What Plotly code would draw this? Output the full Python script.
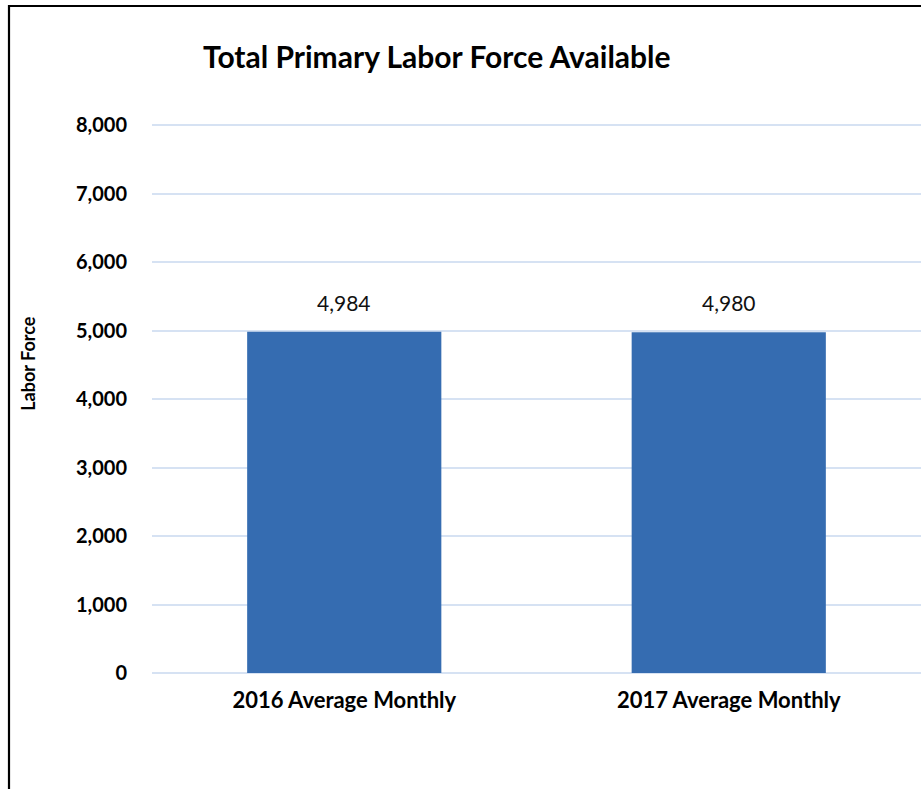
import plotly.graph_objects as go

categories = ["2016 Average Monthly", "2017 Average Monthly"]
labor_force = [4984, 4980]
y_tick_values = [0, 1000, 2000, 3000, 4000, 5000, 6000, 7000, 8000]
y_tick_labels = ["0", "1,000", "2,000", "3,000", "4,000", "5,000", "6,000", "7,000", "8,000"]

FONT = "Lato"
W, H = 921, 789
Y_MAX = 8050
PX_PER_UNIT = 68.5 / 1000
ML, MR, MB = 152, 0, 115.5
MT = 125.5 - (Y_MAX - 8000) * PX_PER_UNIT
plot_w = W - ML - MR
plot_h = H - MT - MB

def px_to_paper_x(px):
    return (px - ML) / plot_w

def px_to_paper_y(py):
    return (H - MB - py) / plot_h

fig = go.Figure()
fig.add_trace(go.Bar(
    x=categories,
    y=labor_force,
    width=0.505,
    marker=dict(color="#356CB1", line=dict(width=0)),
    hoverinfo="x+y",
    showlegend=False,
))

for c, v in zip(categories, labor_force):
    fig.add_annotation(
        x=c, y=v, xref="x", yref="y",
        text=f"{v:,}", showarrow=False,
        yanchor="bottom", yshift=15,
        font=dict(family=FONT, size=21, color="#111111"),
    )

# y-axis title
fig.add_annotation(
    x=px_to_paper_x(28), y=px_to_paper_y(364), xref="paper", yref="paper",
    text="<b>Labor Force</b>", textangle=-90, showarrow=False,
    xanchor="center", yanchor="middle",
    font=dict(family=FONT, size=18, color="#000000"),
)

# chart border (top and left edges visible)
fig.add_shape(
    type="rect", xref="paper", yref="paper",
    x0=px_to_paper_x(9), x1=px_to_paper_x(960),
    y0=px_to_paper_y(830), y1=px_to_paper_y(6),
    line=dict(color="#000000", width=2.2), fillcolor="rgba(0,0,0,0)",
    layer="above",
)

fig.update_layout(
    width=W, height=H,
    margin=dict(l=ML, r=MR, t=MT, b=MB, pad=0),
    paper_bgcolor="white", plot_bgcolor="white",
    title=dict(
        text="<b>Total Primary Labor Force Available</b>",
        x=203 / W, xanchor="left", xref="container",
        y=1 - 57 / H, yanchor="middle", yref="container",
        font=dict(family=FONT, size=30, color="#000000"),
    ),
    bargap=0.495,
    xaxis=dict(
        showgrid=False, showline=False, ticks="",
        tickvals=categories, ticktext=[f"<b>{c}</b>" for c in categories],
        tickfont=dict(family=FONT, size=22, color="#000000"),
        ticklabelstandoff=12,
    ),
    yaxis=dict(
        range=[0, Y_MAX],
        tickvals=y_tick_values, ticktext=[f"<b>{t}</b>" for t in y_tick_labels],
        showgrid=True, gridcolor="#D6E2F3", gridwidth=1.5,
        zeroline=True, zerolinecolor="#D6E2F3", zerolinewidth=1.5,
        showline=False, ticks="",
        tickfont=dict(family=FONT, size=20, color="#000000"),
        ticklabelstandoff=24,
    ),
    font=dict(family=FONT),
)

fig.write_html(
    "out.html",
    config={"displayModeBar": False},
    post_script="document.body.style.margin='0';document.body.style.overflow='hidden';",
)
